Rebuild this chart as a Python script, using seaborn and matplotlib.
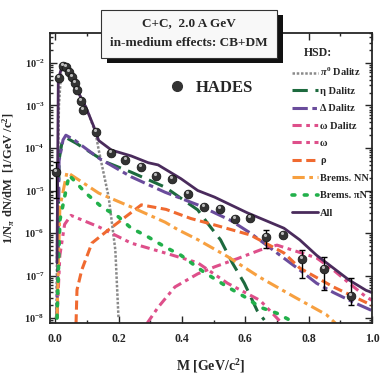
import numpy as np
import pandas as pd
import seaborn as sns
import matplotlib.pyplot as plt
from matplotlib.patches import Rectangle
from matplotlib.lines import Line2D
from matplotlib.ticker import MultipleLocator, FixedLocator, LogLocator, NullFormatter

# HADES data (M in GeV/c^2, yield)
hades_m = [0.003, 0.0125, 0.025, 0.034, 0.044, 0.053, 0.0625, 0.069, 0.081, 0.0875,
           0.128, 0.175, 0.222, 0.272, 0.319, 0.369, 0.419, 0.469, 0.519, 0.566,
           0.616, 0.666, 0.719, 0.778, 0.847, 0.934]
hades_y = [2.7e-5, 4.4e-3, 8.5e-3, 8.1e-3, 6.2e-3, 4.7e-3, 3.4e-3, 2.3e-3, 1.3e-3, 7.9e-4,
           2.4e-4, 7.6e-5, 5.3e-5, 3.5e-5, 2.2e-5, 1.9e-5, 8.3e-6, 4.1e-6, 3.6e-6, 2.1e-6,
           2.2e-6, 8.1e-7, 9.0e-7, 2.4e-7, 1.4e-7, 3.3e-8]
# error bars (only the visible ones)
err_m = [0.003, 0.666, 0.778, 0.847, 0.934]
err_y = [2.7e-5, 8.1e-7, 2.4e-7, 1.4e-7, 3.3e-8]
err_lo = [6.6e-6, 4.5e-7, 9.0e-8, 4.6e-8, 2.0e-8]
err_hi = [4.7e-5, 1.17e-6, 4.0e-7, 2.8e-7, 8.7e-8]

# HSD components
pi0_m = [0.004, 0.008, 0.012, 0.02, 0.03, 0.05, 0.075, 0.1, 0.116, 0.128, 0.1375, 0.169, 0.19, 0.2]
pi0_y = [1e-8, 1e-5, 1e-3, 8e-3, 7.5e-3, 4.5e-3, 1.9e-3, 8.5e-4, 3.9e-4, 2.2e-4, 9e-5, 7e-6, 4e-7, 1e-8]

eta_m = [0.006, 0.009, 0.0125, 0.022, 0.0375, 0.066, 0.159, 0.24, 0.347, 0.397, 0.45, 0.481,
         0.522, 0.559, 0.597, 0.6375, 0.66]
eta_y = [1e-8, 4e-7, 5.2e-5, 1.4e-4, 1.7e-4, 1.3e-4, 4.7e-5, 2.7e-5, 1.2e-5, 6.6e-6, 3.5e-6, 1.7e-6,
         6.9e-7, 2e-7, 6.6e-8, 1.5e-8, 9e-9]

delta_m = [0.006, 0.0125, 0.025, 0.034, 0.06, 0.1375, 0.24, 0.347, 0.45, 0.553, 0.616, 0.7,
           0.772, 0.825, 0.878, 0.95, 1.0]
delta_y = [1e-8, 5e-5, 1.55e-4, 2e-4, 1.55e-4, 5.8e-5, 2.1e-5, 9.1e-6, 4.6e-6, 2e-6, 1e-6, 3.4e-7,
           1.35e-7, 6.6e-8, 4e-8, 2.2e-8, 1.5e-8]

omd_m = [0.006, 0.015, 0.03, 0.05, 0.1375, 0.24, 0.347, 0.45, 0.544, 0.647, 0.7, 0.72]
omd_y = [1e-8, 3e-7, 1.6e-6, 2.6e-6, 1.4e-6, 5.8e-7, 3.4e-7, 2e-7, 6.6e-8, 2.6e-8, 1e-8, 7e-9]

om_m = [0.29, 0.325, 0.378, 0.45, 0.503, 0.575, 0.647, 0.7, 0.772, 0.825, 0.878, 0.928, 0.98, 1.0]
om_y = [7.5e-9, 1.8e-8, 5.4e-8, 1.1e-7, 1.6e-7, 2.5e-7, 4e-7, 5.2e-7, 3.5e-7, 2.6e-7, 1.35e-7,
        6.6e-8, 3.2e-8, 2.6e-8]

rho_m = [0.066, 0.069, 0.084, 0.116, 0.169, 0.222, 0.272, 0.35, 0.428, 0.51, 0.616, 0.722,
         0.772, 0.825, 0.878, 0.95, 1.0]
rho_y = [7.5e-9, 4.6e-8, 1.35e-7, 5.8e-7, 1.2e-6, 2.4e-6, 4.6e-6, 3.6e-6, 2.2e-6, 1.5e-6, 9e-7,
         3.4e-7, 1.5e-7, 9e-8, 5.4e-8, 3e-8, 2e-8]

bnn_m = [0.006, 0.015, 0.0375, 0.1375, 0.24, 0.347, 0.3875, 0.45, 0.544, 0.647, 0.753, 0.856, 0.885]
bnn_y = [1e-8, 4e-6, 2.7e-5, 8.7e-6, 4.1e-6, 1.8e-6, 1.2e-6, 7e-7, 2.8e-7, 9e-8, 3.2e-8, 1.2e-8, 7.5e-9]

bpn_m = [0.006, 0.015, 0.044, 0.097, 0.147, 0.2, 0.24, 0.284, 0.347, 0.397, 0.47, 0.544,
         0.597, 0.647, 0.7, 0.74]
bpn_y = [1e-8, 2e-6, 2.3e-5, 8.7e-6, 4.1e-6, 2.4e-6, 1.3e-6, 8.9e-7, 4.7e-7, 3e-7, 1.2e-7, 5.4e-8,
         3.2e-8, 1.8e-8, 1.3e-8, 9e-9]

all_m = [0.006, 0.01, 0.02, 0.028, 0.053, 0.097, 0.122, 0.1375, 0.178, 0.24, 0.294, 0.325, 0.397,
         0.45, 0.503, 0.606, 0.722, 0.772, 0.825, 0.878, 0.928, 0.981, 1.0]
all_y = [2e-7, 4e-3, 7.6e-3, 8.1e-3, 4e-3, 9.1e-4, 3.2e-4, 1.5e-4, 8.9e-5, 6.5e-5, 4.5e-5, 4e-5,
         1.9e-5, 1e-5, 7e-6, 3e-6, 1.3e-6, 6.9e-7, 3e-7, 1.5e-7, 7.8e-8, 4.5e-8, 4e-8]

y_ticks = [1e-8, 1e-7, 1e-6, 1e-5, 1e-4, 1e-3, 1e-2]
y_ticklabels = ['$10^{-8}$', '$10^{-7}$', '$10^{-6}$', '$10^{-5}$', '$10^{-4}$', '$10^{-3}$', '$10^{-2}$']

curves = [
    ('$\\pi^0$ Dalitz', pi0_m, pi0_y, '#8a8a8a', (0, (1.0, 0.7)), 1.8),
    ('\u03b7 Dalitz', eta_m, eta_y, '#1d6a3e', (0, (5, 2.5)), 2.2),
    ('\u0394 Dalitz', delta_m, delta_y, '#6a4c9c', (0, (5, 1.5, 1.5, 1.5)), 2.2),
    ('\u03c9 Dalitz', omd_m, omd_y, '#de4f8a', (0, (3, 1.5, 1.2, 1.5, 1.2, 1.5)), 2.2),
    ('\u03c9', om_m, om_y, '#de4f8a', (0, (3, 1.5, 1.2, 1.5)), 2.2),
    ('\u03c1', rho_m, rho_y, '#f06a30', (0, (3, 1.5)), 2.2),
    ('Brems. NN', bnn_m, bnn_y, '#f7a040', (0, (4, 1.5, 1.2, 1.5)), 2.2),
    ('Brems. \u03c0N', bpn_m, bpn_y, '#22b04b', (0, (0.8, 2.6)), 2.6),
    ('All', all_m, all_y, '#4a2b5c', '-', 2.0),
]

sns.set_style('ticks')
plt.rcParams['font.family'] = ['Liberation Serif', 'DejaVu Serif']
plt.rcParams['font.weight'] = 'bold'
plt.rcParams['mathtext.fontset'] = 'custom'
plt.rcParams['mathtext.rm'] = 'Liberation Serif:bold'
plt.rcParams['mathtext.it'] = 'Liberation Serif:italic:bold'
plt.rcParams['mathtext.bf'] = 'Liberation Serif:bold'

fig = plt.figure(figsize=(3.82, 3.82), dpi=100)
ax = fig.add_axes([0.131, 0.154, 0.843, 0.76])

handles = []
for label, m, y, col, ls, lw in curves:
    cap = 'round' if label.startswith('Brems. \u03c0') else 'butt'
    sns.lineplot(x=m, y=y, ax=ax, color=col, linestyle=ls, linewidth=lw,
                 sort=False, estimator=None, dash_capstyle=cap)
    handles.append(Line2D([], [], color=col, linestyle=ls, linewidth=lw, dash_capstyle=cap))

ax.errorbar(err_m, err_y, yerr=[np.array(err_y) - np.array(err_lo), np.array(err_hi) - np.array(err_y)],
            fmt='none', ecolor='black', elinewidth=1.0, capsize=2, capthick=1.0, zorder=5)
sns.scatterplot(x=hades_m, y=hades_y, ax=ax, color='#333333', s=40, edgecolor='#111111',
                linewidth=0.5, zorder=6)
ax.scatter(np.array(hades_m) - 0.003, np.array(hades_y) * 1.12, s=5, color='#bbbbbb', linewidth=0, zorder=7)

ax.set_yscale('log')
ax.set_xlim(-0.016, 1.0)
ax.set_ylim(7.6e-9, 5.1e-2)
ax.xaxis.set_major_locator(MultipleLocator(0.2))
ax.xaxis.set_minor_locator(MultipleLocator(0.1))
ax.xaxis.set_major_formatter(plt.FuncFormatter(lambda v, p: f'{v:.1f}'))
ax.yaxis.set_major_locator(FixedLocator(y_ticks))
ax.set_yticklabels(y_ticklabels)
ax.yaxis.set_minor_locator(LogLocator(base=10, subs=np.arange(2, 10), numticks=20))
ax.yaxis.set_minor_formatter(NullFormatter())
ax.tick_params(which='both', direction='in', top=True, right=True, width=1.0)
ax.tick_params(which='major', length=5)
ax.tick_params(which='minor', length=2.5)
ax.tick_params(axis='x', labelsize=8.5, pad=7)
ax.tick_params(axis='y', labelsize=7.5, pad=4)
for sp in ax.spines.values():
    sp.set_linewidth(1.3)

ax.set_xlabel('M [GeV/c$^2$]', fontsize=10, fontweight='bold', labelpad=9)
ax.set_ylabel('1/N$_{\\pi}$ dN/dM  [1/GeV /c$^2$]', fontsize=9, fontweight='bold', labelpad=5)

leg = ax.legend(handles, [c[0] for c in curves], loc='upper right',
                bbox_to_anchor=(0.99, 0.886), frameon=False, fontsize=7.5,
                handlelength=2.5, handletextpad=0.15, labelspacing=0.78, borderaxespad=0,
                borderpad=0)
ax.add_artist(leg)
ax.text(0.832, 0.931, 'HSD:', transform=ax.transAxes, ha='center', va='center',
        fontsize=8.5, fontweight='bold')

hades_h = Line2D([], [], marker='o', color='#333333', markersize=7, linestyle='none')
ax.legend([hades_h], ['HADES'], loc='center', bbox_to_anchor=(0.5, 0.81), frameon=False,
          fontsize=12, handletextpad=0.6, handlelength=1.0)

# title box with shadow
bx, by, bw, bh = 101 / 382, 1 - 58 / 382, 176 / 382, 48 / 382
fig.patches.append(Rectangle((bx + 6 / 382, by - 5 / 382), bw, bh, transform=fig.transFigure,
                             facecolor='#111111', edgecolor='none', zorder=10))
fig.patches.append(Rectangle((bx, by), bw, bh, transform=fig.transFigure,
                             facecolor='#f8f8f8', edgecolor='#333333', linewidth=0.8, zorder=11))
fig.text(bx + bw / 2, 1 - 23 / 382, 'C+C,  2.0 A GeV', ha='center', va='center', fontsize=9.5,
         fontweight='bold', zorder=12)
fig.text(bx + bw / 2, 1 - 43 / 382, 'in-medium effects: CB+DM', ha='center', va='center', fontsize=9.5,
         fontweight='bold', zorder=12)

fig.savefig('out.png', dpi=100)
